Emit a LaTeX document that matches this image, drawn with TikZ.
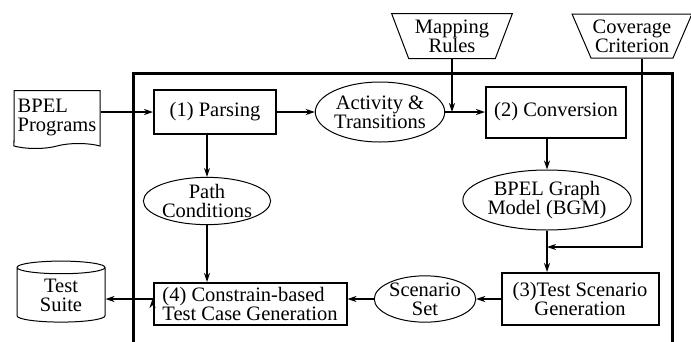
\documentclass[tikz,border=0pt]{standalone}
\usepackage{fontspec}
\setmainfont{Liberation Serif}
\usetikzlibrary{positioning,shapes.geometric,shapes.symbols,arrows.meta}
\tikzstyle{stepbox}=[
draw=black,
line width=2pt,
shape=rectangle,
inner sep=1pt
]
\tikzstyle{data}=[
draw=black,
shape=ellipse,
line width=1pt,
inner sep=0pt
]
\tikzstyle{source}=[
draw=black,
shape=trapezium,
trapezium stretches=true,
shape border rotate=180,
line width=1pt,
inner sep=0pt
]
\tikzstyle{arrow} = [draw,line width=1.2pt,-{Stealth[length=9pt,width=6pt]}]
\tikzstyle{frame} = [line width=3pt]

\begin{document}
\begin{tikzpicture}[x=1pt,y=-1pt,font=\fontsize{20.5}{19}\selectfont]
			\useasboundingbox (0,0) rectangle (691,341);
			
			\draw[frame] (133,350) |- (672,73) -- (672,350);
			
			\node[draw,line width=1pt,tape,tape bend top=none,tape bend bottom=in and out,minimum width=86pt,minimum height=58pt,inner sep=0pt,align=left] (prog) at (57,117) {BPEL\\Programs};
			\node[stepbox,minimum width=122pt,minimum height=44pt] (parse) at (215,112) {(1) Parsing};
			\node[data,minimum width=105pt,minimum height=60pt,align=center] (act) at (380,112) {Activity \&\\Transitions};
			\node[source,minimum width=121pt,minimum height=45pt,trapezium angle=66,align=center] (map) at (452,36) {Mapping\\Rules};
			\node[stepbox,minimum width=140pt,minimum height=51pt] (conv) at (556,112) {(2) Conversion};
			\node[source,minimum width=120pt,minimum height=44pt,trapezium angle=61,align=center] (cov) at (632,36) {Coverage\\Criterion};
			\node[data,minimum width=140pt,minimum height=60pt,align=center] (bgm) at (547,200) {BPEL Graph\\Model (BGM)};
			\node[stepbox,minimum width=157pt,minimum height=52pt,align=center] (tsg) at (580,299) {(3)Test Scenario\\Generation};
			\node[data,minimum width=86pt,minimum height=38pt,align=center] (scen) at (425,299) {Scenario\\Set};
			\node[stepbox,minimum width=193pt,minimum height=42pt,align=left] (tcg) at (250,304) {(4) Constrain-based\\Test Case Generation};
			\node[data,minimum width=122pt,minimum height=46pt,align=center] (cond) at (207,201) {Path\\Conditions};
			\node[draw,line width=1pt,cylinder,shape border rotate=90,aspect=0.3,minimum width=88pt,minimum height=61pt,inner sep=0pt,align=center] (suite) at (61,295) {Test\\Suite};
			
			\coordinate (covturn) at (642,247);
			\coordinate (covend) at (547,247);
			
			\path[arrow]
			(prog.east |- parse) edge (parse)
			(parse) edge (act)
			(act) edge (conv)
			(map) edge (map |- act)
			(parse.south -| cond) edge (cond)
			(cond) edge (cond |- tcg.north)
			(conv.south -| bgm) edge (bgm)
			(bgm) edge (bgm |- tsg.north)
			(tsg) edge (scen)
			(scen) edge (scen -| tcg.east)
			(tcg.west |- scen) edge (scen -| suite.east);
			
			\draw[arrow] (cov.south -| covturn) -- (covturn) -- (covend);
			
\end{tikzpicture}
\end{document}
